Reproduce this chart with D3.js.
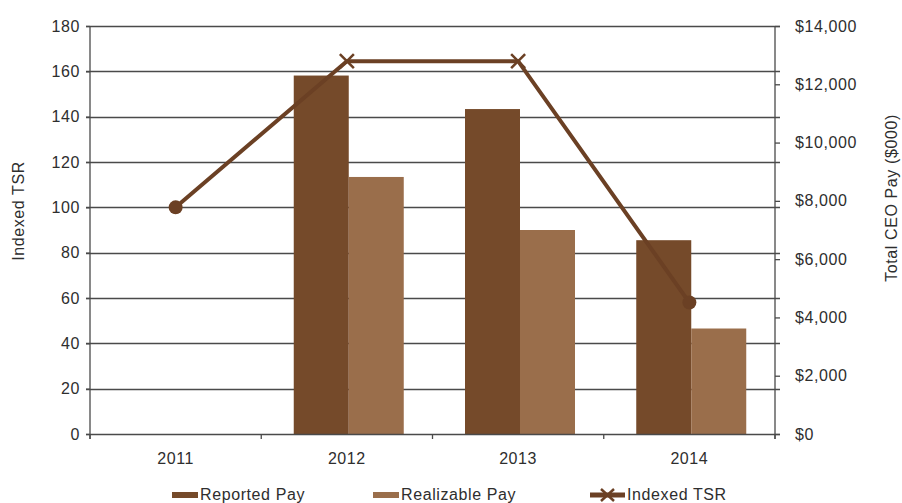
<!DOCTYPE html>
<html>
<head>
<meta charset="utf-8">
<script src="https://cdn.jsdelivr.net/npm/d3@7"></script>
<style>
  body { margin: 0; background: #fff; }
  svg { font-family: "Liberation Sans", Arial, Helvetica, sans-serif; }
</style>
</head>
<body>
<script>
// chart data
var years = ["2011", "2012", "2013", "2014"];
var reportedPay = [null, 12300, 11150, 6650];
var realizablePay = [null, 8820, 7000, 3620];
var indexedTSR = [100, 164.5, 164.5, 58];
var tsrMarkers = ["circle", "x", "x", "circle"];
var leftTicks = [0, 20, 40, 60, 80, 100, 120, 140, 160, 180];
var rightTicks = [0, 2000, 4000, 6000, 8000, 10000, 12000, 14000];

var width = 902, height = 503;
var margin = {top: 26, right: 127, bottom: 69, left: 90};

var cReported = "#754a2a",
    cRealizable = "#9a6e4b",
    cLine = "#6b4024",
    cText = "#2e2e2e",
    cGrid = "#4a4a4a";
var ls = "0.6px";

var svg = d3.select("body").append("svg")
    .attr("width", width)
    .attr("height", height);

var x = d3.scaleBand()
    .domain(years)
    .range([margin.left, width - margin.right]);

var xSub = d3.scaleBand()
    .domain(["reported", "realizable"])
    .range([32.5, 142.5]);

var yLeft = d3.scaleLinear()
    .domain([0, 180])
    .range([height - margin.bottom, margin.top]);

var yRight = d3.scaleLinear()
    .domain([0, 14000])
    .range([height - margin.bottom, margin.top]);

var x0 = margin.left, x1 = width - margin.right;

// horizontal gridlines
svg.append("g")
    .selectAll("line")
    .data(leftTicks.slice(1))
    .enter().append("line")
    .attr("x1", x0 - 4)
    .attr("x2", x1 + 5)
    .attr("y1", function(d) { return Math.round(yLeft(d)) + 0.5; })
    .attr("y2", function(d) { return Math.round(yLeft(d)) + 0.5; })
    .attr("stroke", cGrid)
    .attr("stroke-width", 1.3);

// bars
var bars = [];
years.forEach(function(yr, i) {
    if (reportedPay[i] != null) bars.push({year: yr, key: "reported", value: reportedPay[i]});
    if (realizablePay[i] != null) bars.push({year: yr, key: "realizable", value: realizablePay[i]});
});

svg.append("g")
    .selectAll("rect")
    .data(bars)
    .enter().append("rect")
    .attr("x", function(d) { return x(d.year) + xSub(d.key); })
    .attr("width", xSub.bandwidth())
    .attr("y", function(d) { return yRight(d.value); })
    .attr("height", function(d) { return yRight(0) - yRight(d.value); })
    .attr("fill", function(d) { return d.key == "reported" ? cReported : cRealizable; });

// left axis
var leftAxis = svg.append("g")
    .attr("transform", "translate(" + x0 + ",0)")
    .call(d3.axisLeft(yLeft).tickValues(leftTicks).tickSize(4).tickPadding(6));
leftAxis.select(".domain").remove();
leftAxis.append("line")
    .attr("x1", 0).attr("x2", 0)
    .attr("y1", yLeft(180)).attr("y2", yLeft(0) + 5)
    .attr("stroke", cGrid).attr("stroke-width", 1.3);

// right axis
var rightAxis = svg.append("g")
    .attr("transform", "translate(" + x1 + ",0)")
    .call(d3.axisRight(yRight).tickValues(rightTicks).tickSize(5).tickPadding(15)
        .tickFormat(function(d) { return "$" + d3.format(",")(d); }));
rightAxis.select(".domain").remove();
rightAxis.append("line")
    .attr("x1", 0).attr("x2", 0)
    .attr("y1", yRight(14000)).attr("y2", yRight(0) + 5)
    .attr("stroke", cGrid).attr("stroke-width", 1.3);

// bottom axis
svg.append("line")
    .attr("x1", x0 - 4).attr("x2", x1 + 5)
    .attr("y1", yLeft(0) + 0.5).attr("y2", yLeft(0) + 0.5)
    .attr("stroke", cGrid).attr("stroke-width", 1.3);

svg.append("g")
    .selectAll("line")
    .data(years.concat(["end"]))
    .enter().append("line")
    .attr("x1", function(d) { return d == "end" ? x1 : x(d); })
    .attr("x2", function(d) { return d == "end" ? x1 : x(d); })
    .attr("y1", yLeft(0))
    .attr("y2", yLeft(0) + 5)
    .attr("stroke", cGrid).attr("stroke-width", 1.3);

svg.append("g")
    .selectAll("text")
    .data(years)
    .enter().append("text")
    .attr("x", function(d) { return x(d) + x.bandwidth() / 2; })
    .attr("y", 464)
    .attr("text-anchor", "middle")
    .text(function(d) { return d; });

[leftAxis, rightAxis].forEach(function(ax) {
    ax.selectAll(".tick line").attr("stroke", cGrid).attr("stroke-width", 1.3);
    ax.selectAll(".tick text").attr("fill", cText).attr("font-size", 16)
        .attr("font-family", "Liberation Sans, Arial, sans-serif")
        .style("letter-spacing", ls);
});

svg.selectAll("text").filter(function() { return !this.getAttribute("font-size"); })
    .attr("fill", cText).attr("font-size", 16).style("letter-spacing", ls);

// TSR line
var line = d3.line()
    .x(function(d, i) { return x(years[i]) + x.bandwidth() / 2; })
    .y(function(d) { return yLeft(d); });

svg.append("path")
    .datum(indexedTSR)
    .attr("d", line)
    .attr("fill", "none")
    .attr("stroke", cLine)
    .attr("stroke-width", 4);

var pts = svg.append("g")
    .selectAll("g")
    .data(indexedTSR)
    .enter().append("g")
    .attr("transform", function(d, i) {
        return "translate(" + (x(years[i]) + x.bandwidth() / 2) + "," + yLeft(d) + ")";
    });

pts.filter(function(d, i) { return tsrMarkers[i] == "circle"; })
    .append("circle")
    .attr("r", 7)
    .attr("fill", cLine);

pts.filter(function(d, i) { return tsrMarkers[i] == "x"; })
    .append("path")
    .attr("d", "M-7,-7L7,7M-7,7L7,-7")
    .attr("stroke", cLine)
    .attr("stroke-width", 2.5);

// axis titles
svg.append("text")
    .attr("transform", "translate(24,211) rotate(-90)")
    .attr("text-anchor", "middle")
    .attr("fill", cText)
    .attr("font-size", 16)
    .style("letter-spacing", ls)
    .text("Indexed TSR");

svg.append("text")
    .attr("transform", "translate(897,198) rotate(-90)")
    .attr("text-anchor", "middle")
    .attr("fill", cText)
    .attr("font-size", 16)
    .style("letter-spacing", ls)
    .text("Total CEO Pay ($000)");

// legend
var legendItems = [
    {label: "Reported Pay", type: "rect", color: cReported, x: 172},
    {label: "Realizable Pay", type: "rect", color: cRealizable, x: 373},
    {label: "Indexed TSR", type: "line", color: cLine, x: 590}
];

var legend = svg.append("g")
    .selectAll("g")
    .data(legendItems)
    .enter().append("g")
    .attr("transform", function(d) { return "translate(" + d.x + ",0)"; });

legend.filter(function(d) { return d.type == "rect"; })
    .append("rect")
    .attr("x", 0).attr("y", 492)
    .attr("width", 26).attr("height", 6)
    .attr("fill", function(d) { return d.color; });

var lg = legend.filter(function(d) { return d.type == "line"; });
lg.append("line")
    .attr("x1", 0).attr("x2", 35)
    .attr("y1", 495).attr("y2", 495)
    .attr("stroke", function(d) { return d.color; })
    .attr("stroke-width", 5);
lg.append("path")
    .attr("d", "M11,489L24,501M11,501L24,489")
    .attr("stroke", function(d) { return d.color; })
    .attr("stroke-width", 2.5);

legend.append("text")
    .attr("x", function(d) { return d.type == "line" ? 37 : 28; })
    .attr("y", 500)
    .attr("fill", cText)
    .attr("font-size", 16)
    .style("letter-spacing", ls)
    .text(function(d) { return d.label; });
</script>
</body>
</html>
